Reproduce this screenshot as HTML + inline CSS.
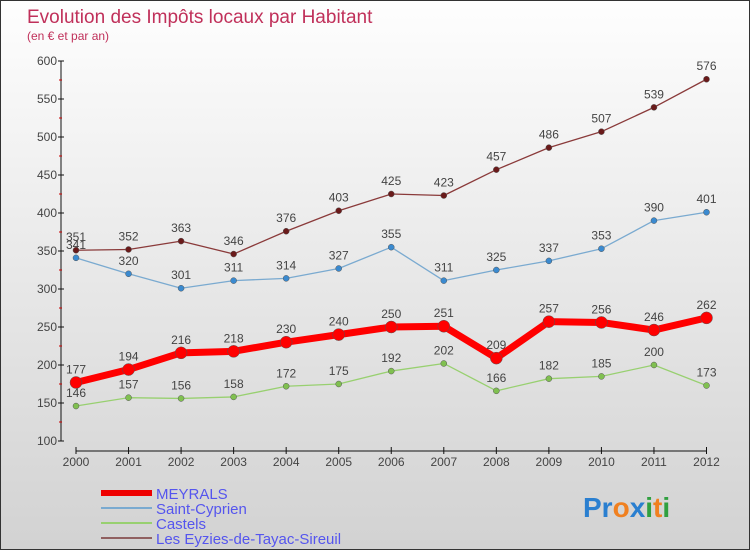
<!DOCTYPE html>
<html><head><meta charset="utf-8"><style>
body{margin:0}
#c{position:relative;width:748px;height:548px;border:1px solid #333;background:linear-gradient(#fefefe,#d2d2d2);font-family:"Liberation Sans",sans-serif;overflow:hidden}
svg text{font-family:"Liberation Sans",sans-serif}
</style></head><body>
<div id="c">
<svg id="s" width="748" height="548">
<text x="26" y="22" font-size="19" fill="#c0305a">Evolution des Impôts locaux par Habitant</text>
<text x="26" y="39" font-size="12" fill="#c0305a">(en € et par an)</text>
<g id="axes"></g><g id="series"></g>
<g>
<line x1="100" y1="492" x2="151" y2="492" stroke="#e00" stroke-width="6"/>
<line x1="100" y1="507" x2="151" y2="507" stroke="#7aaad0" stroke-width="2"/>
<line x1="100" y1="522" x2="151" y2="522" stroke="#98d070" stroke-width="2"/>
<line x1="100" y1="537" x2="151" y2="537" stroke="#906060" stroke-width="2"/>
<text x="155" y="498" font-size="15" fill="#5555ee">MEYRALS</text>
<text x="155" y="513" font-size="15" fill="#5555ee">Saint-Cyprien</text>
<text x="155" y="528" font-size="15" fill="#5555ee">Castels</text>
<text x="155" y="543" font-size="15" fill="#5555ee">Les Eyzies-de-Tayac-Sireuil</text>
</g>
<text x="582" y="516" font-size="28" font-weight="bold"><tspan fill="#2a7fd0">Pr</tspan><tspan fill="#f08020">o</tspan><tspan fill="#2a7fd0">x</tspan><tspan fill="#30a040">i</tspan><tspan fill="#f08020">t</tspan><tspan fill="#30a040">i</tspan></text>
</svg></div>
<script>
const years=[2000,2001,2002,2003,2004,2005,2006,2007,2008,2009,2010,2011,2012];
const meyrals=[177,194,216,218,230,240,250,251,209,257,256,246,262];
const stCyprien=[341,320,301,311,314,327,355,311,325,337,353,390,401];
const castels=[146,157,156,158,172,175,192,202,166,182,185,200,173];
const eyzies=[351,352,363,346,376,403,425,423,457,486,507,539,576];
const yTicks=[100,150,200,250,300,350,400,450,500,550,600];
const NS="http://www.w3.org/2000/svg";
const X=i=>75+i*(705.5-75)/(years.length-1);
const Y=v=>440-(v-100)*0.76;
function mk(t,a,p){const e=document.createElementNS(NS,t);for(const k in a)e.setAttribute(k,a[k]);p.appendChild(e);return e;}
const ax=document.getElementById('axes');
let l=mk('line',{x1:60,y1:Y(600),x2:60,y2:Y(100),stroke:'#111'},ax);


yTicks.forEach(v=>{mk('line',{x1:57,y1:Y(v),x2:63,y2:Y(v),stroke:'#111'},ax);
if(v<600)mk('line',{x1:58,y1:Y(v+25),x2:61,y2:Y(v+25),stroke:'#c00'},ax);
const t=mk('text',{x:56,y:Y(v)+4,'font-size':12,fill:'#444','text-anchor':'end'},ax);t.textContent=v;

});
l=mk('line',{x1:X(0),y1:450,x2:X(12),y2:450,stroke:'#111'},ax);


years.forEach((y,i)=>{mk('line',{x1:X(i),y1:446,x2:X(i),y2:453,stroke:'#111'},ax);
const t=mk('text',{x:X(i),y:465,'font-size':12,fill:'#444','text-anchor':'middle'},ax);t.textContent=y;

});
const sg=document.getElementById('series');
function draw(d,name,col,dot,w,r){const g=mk('g',{},sg);


const p=mk('polyline',{points:d.map((v,i)=>X(i)+','+Y(v)).join(' '),fill:'none',stroke:col,'stroke-width':w,'stroke-linejoin':'round'},g);
d.forEach((v,i)=>{const c=mk('circle',{cx:X(i),cy:Y(v),r:r,fill:dot,stroke:'#555','stroke-width':0.5},g);


const t=mk('text',{x:X(i),y:Y(v)-9,'font-size':12,fill:'#444','text-anchor':'middle'},g);t.textContent=v;

});}
draw(castels,'castels-series','#98d070','#80c050',1.3,3);
draw(stCyprien,'saint-cyprien-series','#7aaad0','#3a8ad0',1.3,3);
draw(eyzies,'les-eyzies-series','#8a3a3a','#6a1a1a',1.3,3);
draw(meyrals,'meyrals-series','#f00','#f00',7,6);
</script>
</body></html>
